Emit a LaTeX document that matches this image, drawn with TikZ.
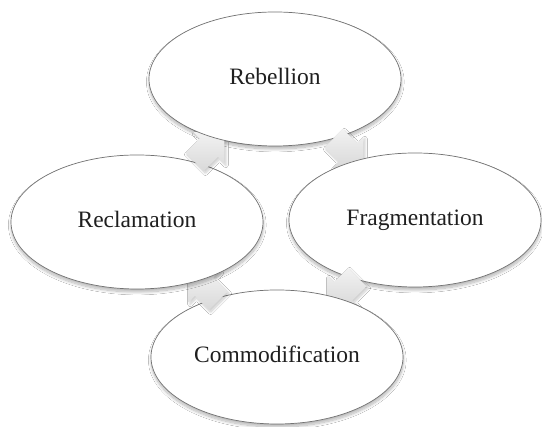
\documentclass[tikz,border=0pt]{standalone}
\usepackage{fontspec}
\setmainfont{Liberation Serif}
\usetikzlibrary{shapes.geometric,shadows.blur,calc}
\tikzset{
  stagebase/.style={ellipse, draw=black!55, line width=0.7pt, fill=white,
    minimum width=252pt, minimum height=134pt, inner sep=0pt,
    font=\fontsize{23.5}{28}\selectfont, text=black!88,
    text height=16pt, text depth=5pt},
  stage/.style={stagebase,
    blur shadow={shadow xshift=0.3pt, shadow yshift=-3pt, shadow blur radius=2.8pt, shadow opacity=30, shadow blur steps=14}},
  blockarrow/.style={draw=none, top color=gray!10, bottom color=gray!30,
    blur shadow={shadow xshift=1.5pt, shadow yshift=-2pt, shadow blur radius=2.5pt, shadow opacity=22, shadow blur steps=10}},
  arrowpath/.pic={\path[blockarrow] (-16,-13) -- (4,-13) -- (4,-22) -- (26,0) -- (4,22) -- (4,13) -- (-16,13) -- cycle;}
}
\begin{document}
\begin{tikzpicture}[x=1pt,y=1pt]
  \useasboundingbox[fill=white] (0,0) rectangle (542,427);
  \node[stage] (reb) at (275,348) {Rebellion};
  \coordinate (a1) at ($(reb)!0.5!(415,207)$);
  \pic[rotate=-45] at (a1) {arrowpath};
  \node[stage] (frag) at (415,207) {Fragmentation};
  \coordinate (a2) at ($(frag)!0.5!(277,70)$);
  \pic[rotate=-135] at (a2) {arrowpath};
  \node[stage] (com) at (277,70) {Commodification};
  \coordinate (a3) at ($(com)!0.5!(137,205)$);
  \pic[rotate=135] at (a3) {arrowpath};
  \node[stage] (recl) at (137,205) {Reclamation};
  \coordinate (a4) at ($(recl)!0.5!(reb)$);
  \pic[rotate=45] at (a4) {arrowpath};
  \begin{scope}
    \clip (180,268) rectangle (250,300);
    \node[stagebase] (rebtop) at (reb) {Rebellion};
  \end{scope}
\end{tikzpicture}
\end{document}
